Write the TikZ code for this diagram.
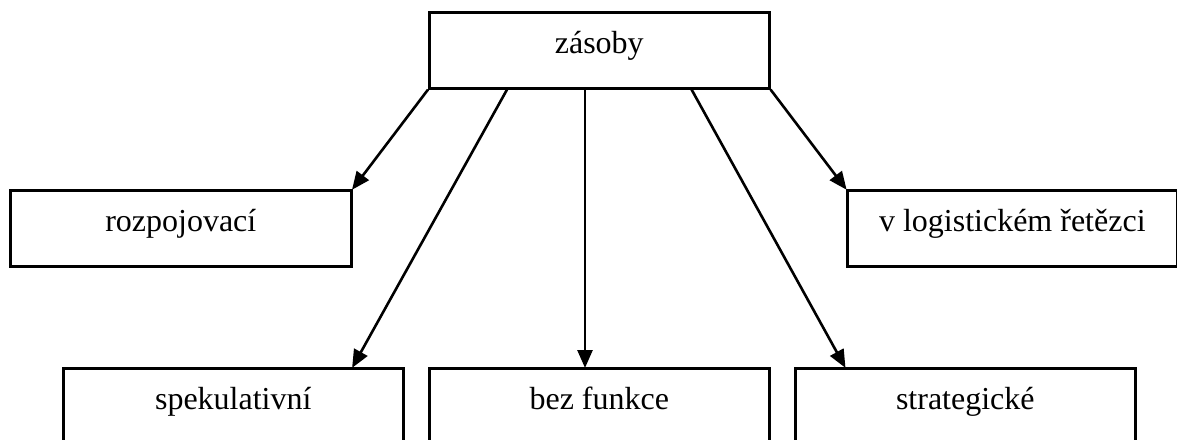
\documentclass[tikz,border=0pt]{standalone}
\usepackage{fontspec}
\setmainfont{Liberation Serif}
\usetikzlibrary{arrows.meta}
\tikzset{
  box/.style={draw, line width=2.6pt, rectangle, inner sep=0pt, anchor=north west,
    minimum width=340pt, text height=41pt, text depth=35pt,
    font=\fontsize{32}{38}\selectfont},
  arr/.style={line width=2.6pt, -{Triangle[length=18pt,width=15pt]}, shorten >=-1pt}
}
\begin{document}
\begin{tikzpicture}[x=1pt,y=-1pt]
  \useasboundingbox (0,0) rectangle (1177,439);
  \clip (0,0) rectangle (1177,439);
  \fill[white] (0,0) rectangle (1177,439);

  % main category
  \node[box] (top) at (428,11) {zásoby};

  % middle row
  \node[box, minimum width=341pt] (rozp) at (9,189) {rozpojovací};
  \node[box, minimum width=330pt] (logi) at (846,189) {v logistickém řetězci};

  % bottom row
  \node[box] (spek) at (62,367) {spekulativní};
  \node[box] (bez)  at (428,367) {bez funkce};
  \node[box] (stra) at (794,367) {strategické};

  % connectors
  \draw[arr] (top.south west) -- (rozp.north east);
  \draw[arr] ([xshift=79pt]top.south west) -- ([xshift=-52pt]spek.north east);
  \draw[arr] ([xshift=157pt]top.south west) -- ([xshift=157pt]bez.north west);
  \draw[arr] ([xshift=-79pt]top.south east) -- ([xshift=51pt]stra.north west);
  \draw[arr] (top.south east) -- (logi.north west);
\end{tikzpicture}
\end{document}
